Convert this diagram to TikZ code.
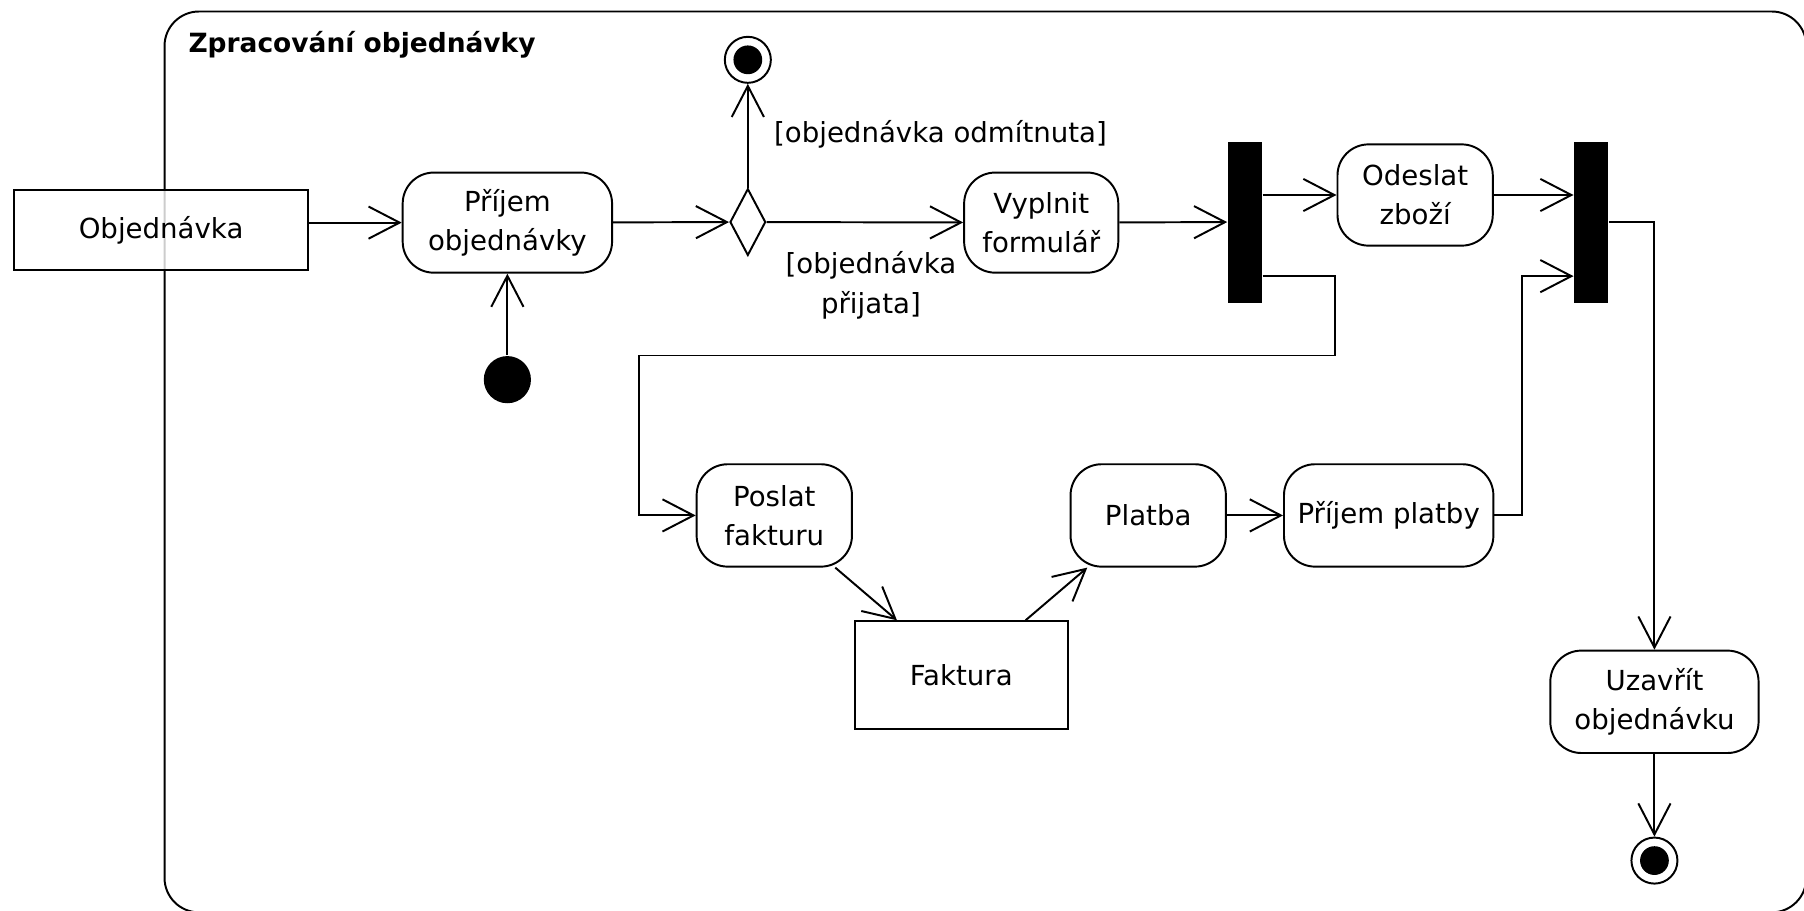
\documentclass[tikz,border=0pt]{standalone}
\usepackage{fontspec}
\setmainfont{DejaVu Sans}
\usetikzlibrary{shapes.geometric, arrows.meta}

\begin{document}
\begin{tikzpicture}[x=1pt, y=-1pt, line width=1.7pt, font=\fontsize{24}{34}\selectfont]
	\tikzset{actbox/.style={draw, rounded corners=27pt, align=center, inner sep=0pt, minimum width=135pt, minimum height=88pt}}
	\tikzset{objbox/.style={draw, rectangle, inner sep=0pt, fill=white, fill opacity=0.8, text opacity=1}}
	\tikzset{syncbar/.style={fill=black, inner sep=0pt, minimum width=29pt, minimum height=140pt}}
	\tikzset{choice/.style={draw, diamond, inner sep=0pt, minimum width=31pt, minimum height=58pt}}
	\tikzset{startdot/.style={circle, fill=black, inner sep=0pt, minimum size=41pt}}
	\tikzset{enddot/.style={circle, draw, inner sep=0pt, minimum size=40pt, path picture={\fill[black] (path picture bounding box.center) circle (12.5pt);}}}
	\tikzset{flowarrow/.style={-{Straight Barb[length=27pt, width=28pt]}}}
	\tikzset{guardtext/.style={inner sep=0pt, align=center}}
	
	\useasboundingbox (0,0) rectangle (1568,791);
	\draw[rounded corners=30pt] (143,10) rectangle (1570,793);
	\node[anchor=base west, inner sep=0pt, font=\fontsize{23}{28}\selectfont\bfseries] (title) at (163,46) {Zpracování objednávky};
	
	\node[objbox, minimum width=256pt, minimum height=70pt] (objednavka) at (140,200) {Objednávka};
	\node[actbox, minimum width=182pt, minimum height=87pt] (prijem) at (441,193.5) {Příjem\\objednávky};
	\node[startdot] (start) at (441,330) {};
	\node[choice] (rozhod) at (650,193) {};
	\node[enddot] (konec1) at (650,52) {};
	\node[actbox, minimum width=134pt, minimum height=87pt] (vyplnit) at (905,193.5) {Vyplnit\\formulář};
	\node[syncbar] (fork) at (1082,193) {};
	\node[actbox] (odeslat) at (1230,169.5) {Odeslat\\zboží};
	\node[syncbar] (join) at (1383,193) {};
	\node[actbox, minimum height=89pt] (poslat) at (673,448) {Poslat\\fakturu};
	\node[objbox, minimum width=185pt, minimum height=94pt] (faktura) at (835.5,587) {Faktura};
	\node[actbox, minimum height=89pt] (platba) at (998,448) {Platba};
	\node[actbox, minimum width=182pt, minimum height=89pt] (prijplat) at (1207,448) {Příjem platby};
	\node[actbox, minimum width=181pt, minimum height=89pt] (uzavrit) at (1438,610) {Uzavřít\\objednávku};
	\node[enddot] (konec2) at (1438,748) {};
	
	\node[guardtext, anchor=west] (odmitnuta) at (672,117) {[objednávka odmítnuta]};
	\node[guardtext] (prijata) at (757,248) {[objednávka\\přijata]};
	
	\draw[flowarrow] (objednavka.east |- prijem) -- (prijem);
	\draw[flowarrow] (start) -- (prijem);
	\draw[flowarrow] (prijem) -- (rozhod);
	\draw[flowarrow] (rozhod) -- (konec1);
	\draw[flowarrow] (rozhod) -- (vyplnit);
	\draw[flowarrow] (vyplnit) -- (fork);
	\draw[flowarrow] (fork.east |- odeslat) -- (odeslat);
	\draw[flowarrow] (odeslat) -- (odeslat -| join.west);
	\draw[flowarrow] ([yshift=-47pt]fork.east) -| ([xshift=63pt,yshift=-116pt]fork.east) -| ([xshift=-49pt]poslat.west) -- (poslat.west);
	\draw[flowarrow] (poslat) -- (faktura);
	\draw[flowarrow] (faktura) -- (platba);
	\draw[flowarrow] (platba) -- (prijplat);
	\draw[flowarrow] (prijplat.east) -| ([xshift=-45pt,yshift=-47pt]join.west) -- ([yshift=-47pt]join.west);
	\draw[flowarrow] (join.east) -| (uzavrit);
	\draw[flowarrow] (uzavrit) -- (konec2);
\end{tikzpicture}
\end{document}
